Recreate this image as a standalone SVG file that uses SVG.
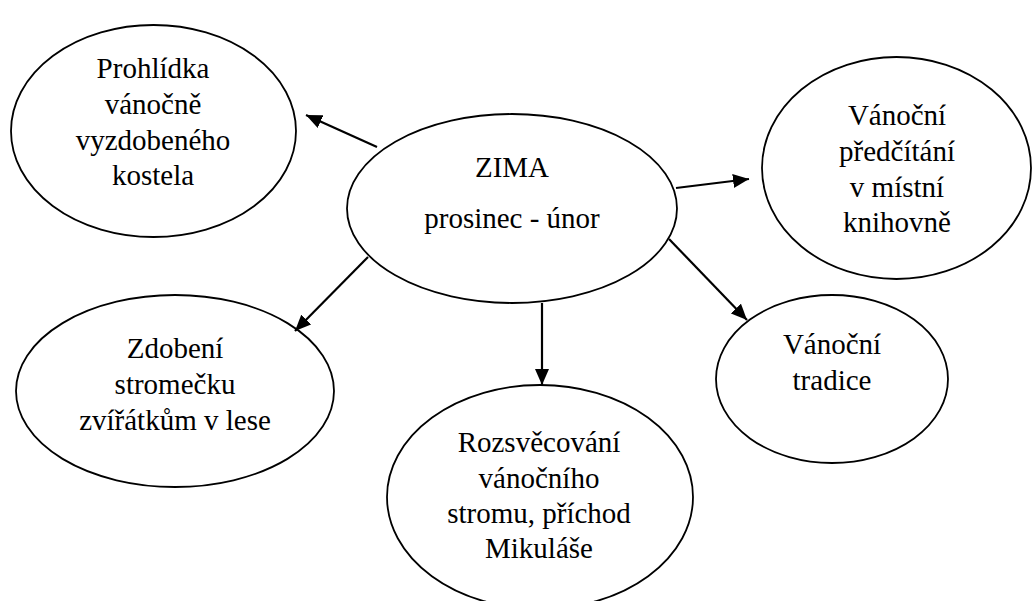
<svg xmlns="http://www.w3.org/2000/svg" width="1033" height="601" viewBox="0 0 1033 601">
<defs>
<style>
.n ellipse{fill:#fff;stroke:#000;stroke-width:1.8}
text{font-family:'Liberation Serif','Times New Roman',Times,'DejaVu Serif',serif;font-size:29px;fill:#000;text-anchor:middle}
.c line{stroke:#000;stroke-width:2.2;marker-end:url(#ah)}
</style>
<marker id="ah" markerUnits="userSpaceOnUse" markerWidth="18" markerHeight="14" refX="16" refY="7" orient="auto">
<path d="M0,0 L16,7 L0,14 Z" fill="#000"/>
</marker>
</defs>
<rect width="1033" height="601" fill="#fff"/>
<g font-family="Liberation Serif, Times New Roman, serif">
<g id="center" class="n">
<ellipse cx="512" cy="208.5" rx="165" ry="94.5"/>
<text x="512" y="177">ZIMA</text>
<text x="512" y="228">prosinec - únor</text>
</g>
<g id="prohlidka" class="n">
<ellipse cx="153.5" cy="131" rx="142.5" ry="106"/>
<text x="153" y="78">Prohlídka</text>
<text x="153" y="113.5">vánočně</text>
<text x="153" y="149.5">vyzdobeného</text>
<text x="153" y="185">kostela</text>
</g>
<g id="predcitani" class="n">
<ellipse cx="896.5" cy="168" rx="134.5" ry="111"/>
<text x="897" y="125">Vánoční</text>
<text x="897" y="160.5">předčítání</text>
<text x="897" y="196.5">v místní</text>
<text x="897" y="232">knihovně</text>
</g>
<g id="zdobeni" class="n">
<ellipse cx="175" cy="391" rx="159" ry="96"/>
<text x="175" y="358">Zdobení</text>
<text x="175" y="394">stromečku</text>
<text x="175" y="430">zvířátkům v lese</text>
</g>
<g id="tradice" class="n">
<ellipse cx="832" cy="379" rx="116" ry="84"/>
<text x="832" y="354">Vánoční</text>
<text x="832" y="390">tradice</text>
</g>
<g id="rozsvecovani" class="n">
<ellipse cx="540" cy="497" rx="153" ry="112"/>
<text x="539" y="452">Rozsvěcování</text>
<text x="539" y="487.5">vánočního</text>
<text x="539" y="523">stromu, příchod</text>
<text x="539" y="558">Mikuláše</text>
</g>
</g>
<g id="connectors" class="c">
<line x1="377" y1="147" x2="306" y2="115"/>
<line x1="676" y1="188" x2="749" y2="179"/>
<line x1="669" y1="239" x2="747" y2="320"/>
<line x1="368" y1="257" x2="295" y2="331"/>
<line x1="542" y1="303" x2="542" y2="385"/>
</g>
</svg>
